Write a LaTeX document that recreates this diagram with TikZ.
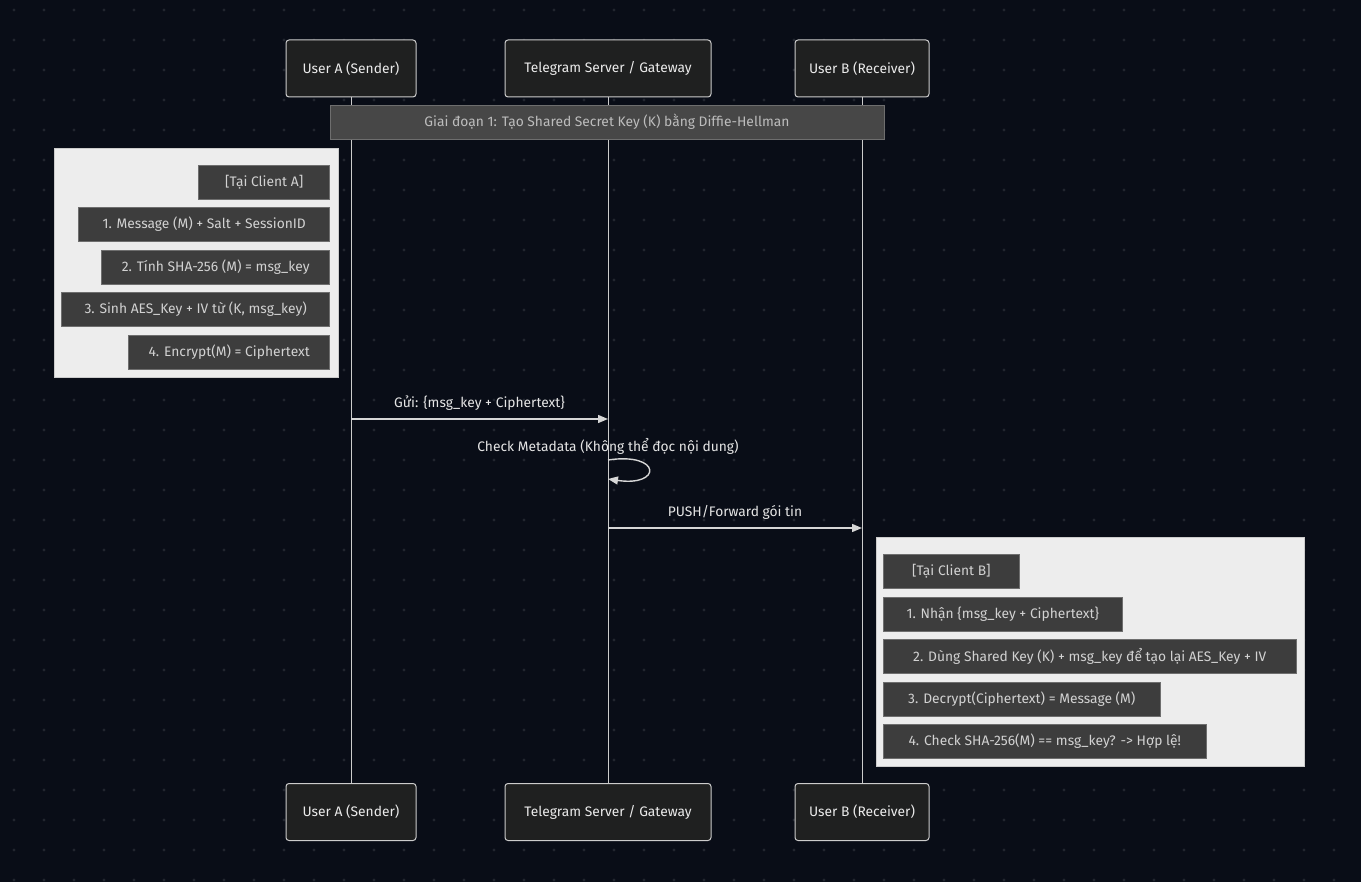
\documentclass[tikz,border=0pt]{standalone}
\usepackage{fontspec}
\setmainfont{Fira Sans}
\usetikzlibrary{positioning,arrows.meta,calc}
\definecolor{bgpage}{HTML}{090D17}
\definecolor{griddot}{HTML}{22262F}
\definecolor{actorfill}{HTML}{1F2020}
\definecolor{actorline}{HTML}{CCCCCC}
\definecolor{notefill}{HTML}{3D3D3D}
\definecolor{phasefill}{HTML}{474747}
\definecolor{noteline}{HTML}{6E6E6E}
\definecolor{notetext}{HTML}{D2D2D2}
\definecolor{rectfill}{HTML}{EDEDED}
\definecolor{msgline}{HTML}{D6D6D6}
\newcommand{\seqfont}{\fontsize{13.8}{16}\selectfont}

\begin{document}
\begin{tikzpicture}[x=1pt,y=-1pt,
  actor/.style={draw=actorline,fill=actorfill,line width=1pt,rounded corners=3pt,minimum height=57pt,inner sep=0pt,text=white!92!black,font=\seqfont},
  life/.style={draw=actorline,line width=1pt},
  phase/.style={draw=noteline,fill=phasefill,minimum height=34pt,inner sep=0pt,text=notetext!90!black,font=\seqfont},
  clientbox/.style={draw=white!80!black,fill=rectfill,line width=0.6pt,inner sep=0pt},
  stepnote/.style={draw=noteline,fill=notefill,line width=0.6pt,minimum height=34pt,inner sep=0pt,text=notetext,font=\seqfont},
  msg/.style={draw=msgline,line width=1.4pt,-{Triangle[length=10pt,width=8pt]}},
  msglbl/.style={text=white!90!black,font=\seqfont,inner sep=0pt}]

  % background and dot grid
  \useasboundingbox (0,0) rectangle (1361,882);
  \fill[bgpage] (0,0) rectangle (1361,882);
  \foreach \x in {14,44,...,1360}
    \foreach \y in {10,40,...,880}
      \fill[griddot] (\x,\y) circle (1.7);

  % participants
  \node[actor,minimum width=130] (ua) at (351,68.5) {User A (Sender)};
  \node[actor,minimum width=206] (tg) at (608,68.5) {Telegram Server / Gateway};
  \node[actor,minimum width=134] (ub) at (862,68.5) {User B (Receiver)};
  \node[actor,minimum width=130] (uaB) at (351,812) {User A (Sender)};
  \node[actor,minimum width=206] (tgB) at (608,812) {Telegram Server / Gateway};
  \node[actor,minimum width=134] (ubB) at (862,812) {User B (Receiver)};
  \foreach \t/\b in {ua/uaB,tg/tgB,ub/ubB} \draw[life] (\t) -- (\b);

  % phase 1
  \node[phase,minimum width=554] (ph1) at (607,122) {Giai đoạn 1: Tạo Shared Secret Key (K) bằng Diffie-Hellman};

  % client A
  \node[clientbox,minimum width=284,minimum height=229] (rectA) at (196,262.5) {};
  \node[stepnote,minimum width=131,anchor=east] (na0) at (330,182) {[Tại Client A]};
  \node[stepnote,minimum width=251,anchor=east] (na1) at (330,224.5) {1. Message (M) + Salt + SessionID};
  \node[stepnote,minimum width=228,anchor=east] (na2) at (330,267) {2. Tính SHA-256 (M) = msg\_key};
  \node[stepnote,minimum width=268,anchor=east] (na3) at (330,309.5) {3. Sinh AES\_Key + IV từ (K, msg\_key)};
  \node[stepnote,minimum width=201,anchor=east] (na4) at (330,352) {4. Encrypt(M) = Ciphertext};

  % messages
  \coordinate (ySend) at (0,419);
  \coordinate (yChk) at (0,446);
  \coordinate (yLoopA) at (0,460);
  \coordinate (yLoopB) at (0,479);
  \coordinate (yPush) at (0,528);
  \draw[msg] (ua |- ySend) -- node[msglbl,yshift=16pt] (lSend) {Gửi: \{msg\_key + Ciphertext\}} (tg |- ySend);
  \node[msglbl] (lChk) at (tg |- yChk) {Check Metadata (Không thể đọc nội dung)};
  \draw[msg] (tg |- yLoopA) .. controls ($(tg |- yLoopA)+(54,-8)$) and ($(tg |- yLoopA)+(54,27)$) .. (tg |- yLoopB);
  \draw[msg] (tg |- yPush) -- node[msglbl,yshift=16pt] (lPush) {PUSH/Forward gói tin} (ub |- yPush);

  % client B
  \node[clientbox,minimum width=428,minimum height=229] (rectB) at (1090,651.5) {};
  \node[stepnote,minimum width=136,anchor=west] (nb0) at (883,571.5) {[Tại Client B]};
  \node[stepnote,minimum width=239,anchor=west] (nb1) at (883,614) {1. Nhận \{msg\_key + Ciphertext\}};
  \node[stepnote,minimum width=413,anchor=west] (nb2) at (883,656.5) {2. Dùng Shared Key (K) + msg\_key để tạo lại AES\_Key + IV};
  \node[stepnote,minimum width=277,anchor=west] (nb3) at (883,699) {3. Decrypt(Ciphertext) = Message (M)};
  \node[stepnote,minimum width=323,anchor=west] (nb4) at (883,741.5) {4. Check SHA-256(M) == msg\_key? -> Hợp lệ!};
\end{tikzpicture}
\end{document}
